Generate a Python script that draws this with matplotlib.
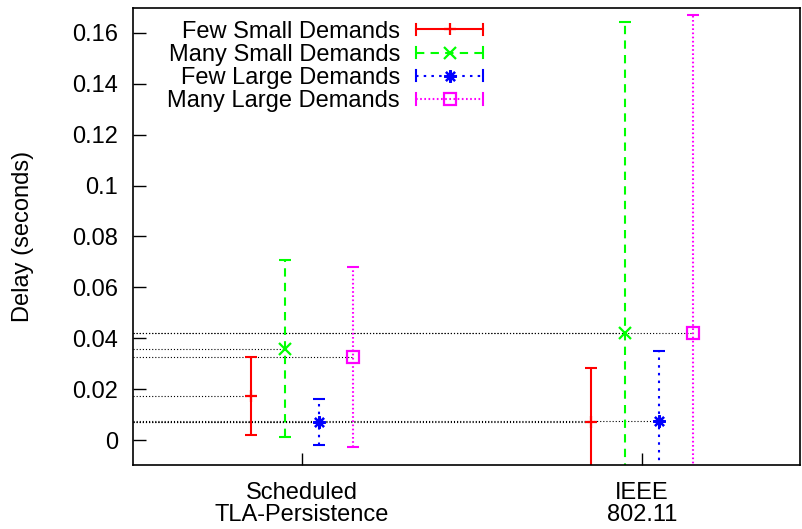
import numpy as np
import matplotlib
matplotlib.use('Agg')
import matplotlib.pyplot as plt
from matplotlib.lines import Line2D
from matplotlib.legend_handler import HandlerBase

# datos
groups = ['Scheduled\nTLA-Persistence', 'IEEE\n802.11']
series = ['Few Small Demands', 'Many Small Demands', 'Few Large Demands', 'Many Large Demands']
means = {
    'Few Small Demands':  [0.0173, 0.0072],
    'Many Small Demands': [0.0359, 0.0422],
    'Few Large Demands':  [0.0072, 0.0076],
    'Many Large Demands': [0.0325, 0.0422],
}
errors = {
    'Few Small Demands':  [0.0153, 0.0210],
    'Many Small Demands': [0.0348, 0.1220],
    'Few Large Demands':  [0.0090, 0.0275],
    'Many Large Demands': [0.0354, 0.1250],
}
yticks = [0, 0.02, 0.04, 0.06, 0.08, 0.1, 0.12, 0.14, 0.16]
ytick_labels = ['0', '0.02', '0.04', '0.06', '0.08', '0.1', '0.12', '0.14', '0.16']

colors = ['#ff0000', '#00ff00', '#0000ff', '#ff00ff']
styles = ['-', (0, (4, 3)), (0, (1.2, 2.5)), (0, (0.8, 1.2))]
markers = ['+', 'x', (8, 2, 0), 's']
offsets = [-0.15, -0.05, 0.05, 0.15]

plt.rcParams['font.family'] = ['Liberation Sans', 'DejaVu Sans']
plt.rcParams['font.size'] = 17

fig = plt.figure(figsize=(8.02, 5.29), dpi=100)
ax = fig.add_axes([0.166, 0.121, 0.8315, 0.864])
xmin, xmax = 0.503, 2.465
ax.set_xlim(xmin, xmax)
ax.set_ylim(-0.0098, 0.1698)

xpos = np.arange(1, len(groups) + 1)
handles = []
for i, name in enumerate(series):
    x = xpos + offsets[i]
    y = np.array(means[name])
    e = np.array(errors[name])
    # lineas punteadas desde el eje hasta el punto
    ax.hlines(y, xmin, x, colors='k', linestyles=(0, (1, 1.8)), lw=0.8, zorder=1)
    mfc = 'none' if markers[i] == 's' else colors[i]
    cont = ax.errorbar(x, y, yerr=e, fmt='none', ecolor=colors[i], elinewidth=1.5,
                       capsize=4.5, capthick=1.5, zorder=2)
    for lc in cont[2]:
        lc.set_linestyle(styles[i])
    ax.plot(x, y, ls='none', marker=markers[i], color=colors[i], mfc=mfc,
            ms=9, mew=1.6, zorder=3)
    handles.append(Line2D([], [], color=colors[i], ls=styles[i], lw=1.5,
                          marker=markers[i], mfc=mfc, ms=9, mew=1.6))


class CapHandler(HandlerBase):
    def create_artists(self, legend, orig, xdescent, ydescent, width, height,
                       fontsize, trans):
        y = height / 2 - ydescent
        x0, x1 = -xdescent, width - xdescent
        line = Line2D([x0, x1], [y, y])
        line.update_from(orig)
        line.set_marker('None')
        caps = Line2D([x0, x0, np.nan, x1, x1], [y - 4, y + 4, np.nan, y - 4, y + 4],
                      color=orig.get_color(), lw=orig.get_linewidth())
        mark = Line2D([(x0 + x1) / 2], [y], ls='none', marker=orig.get_marker(),
                      color=orig.get_color(), mfc=orig.get_markerfacecolor(),
                      ms=orig.get_markersize(), mew=orig.get_markeredgewidth())
        for a in (line, caps, mark):
            a.set_transform(trans)
        return [line, caps, mark]


ax.legend(handles, series, loc='upper right', bbox_to_anchor=(0.525, 0.972),
          frameon=False, markerfirst=False, handlelength=2.84, handletextpad=0.68,
          labelspacing=0.05, borderaxespad=0, borderpad=0,
          handler_map={Line2D: CapHandler()})

ax.set_xticks(xpos)
ax.set_xticklabels(groups, linespacing=1.0)
ax.set_yticks(yticks)
ax.set_yticklabels(ytick_labels)
ax.tick_params(direction='in', length=9, width=1, pad=11)
ax.tick_params(axis='x', pad=12)
ax.set_ylabel('Delay (seconds)', labelpad=27)
for s in ax.spines.values():
    s.set_linewidth(1.2)

fig.savefig('out.png', dpi=100)
